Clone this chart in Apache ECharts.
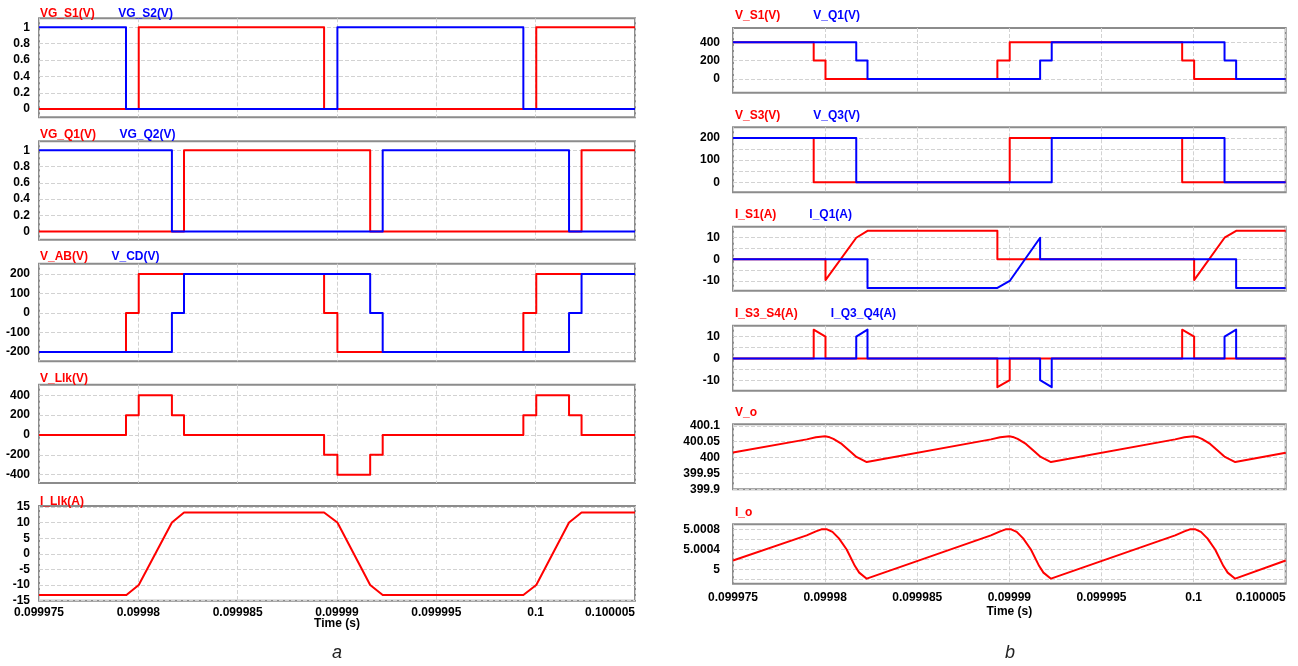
<!DOCTYPE html>
<html><head><meta charset="utf-8">
<script src="https://cdn.jsdelivr.net/npm/echarts@6/dist/echarts.min.js"></script>
<style>html,body{margin:0;padding:0;background:#fff}#c{width:1298px;height:666px}</style>
</head><body><div id="c"></div><script>
// ---------- Time axis ----------
const xTicks = [0.099975, 0.09998, 0.099985, 0.09999, 0.099995, 0.1, 0.100005];
const xTickLabels = ['0.099975', '0.09998', '0.099985', '0.09999', '0.099995', '0.1', '0.100005'];

// ---------- y tick values ----------
const yTicksGate = [0, 0.2, 0.4, 0.6, 0.8, 1];
const yTicksVab = [-200, -100, 0, 100, 200];
const yTicksVllk = [-400, -200, 0, 200, 400];
const yTicksIllk = [-15, -10, -5, 0, 5, 10, 15];
const yTicksVs1 = [0, 200, 400];
const yTicksVs3 = [0, 100, 200];
const yGridVs3 = [0, 50, 100, 150, 200];
const yTicksI = [-10, 0, 10];
const yGridI = [-10, -5, 0, 5, 10];
const yTicksVo = [399.9, 399.95, 400, 400.05, 400.1];
const yTicksIo = [5, 5.0004, 5.0008];
const yGridIo = [4.9998, 5, 5.0002, 5.0004, 5.0006, 5.0008];

// ---------- (a) column series: [time s, value] ----------
const vgS1 = [[0.099975,0],[0.09998002,0],[0.09998002,1],[0.09998935,1],[0.09998935,0],[0.10000003,0],[0.10000003,1],[0.100005,1]];
const vgS2 = [[0.099975,1],[0.09997938,1],[0.09997938,0],[0.09999002,0],[0.09999002,1],[0.09999938,1],[0.09999938,0],[0.100005,0]];
const vgQ1 = [[0.099975,0],[0.0999823,0],[0.0999823,1],[0.09999167,1],[0.09999167,0],[0.10000231,0],[0.10000231,1],[0.100005,1]];
const vgQ2 = [[0.099975,1],[0.09998169,1],[0.09998169,0],[0.0999923,0],[0.0999923,1],[0.10000168,1],[0.10000168,0],[0.100005,0]];
const vAB = [[0.099975,-200],[0.09997938,-200],[0.09997938,0],[0.09998002,0],[0.09998002,200],[0.09998935,200],[0.09998935,0],[0.09999002,0],[0.09999002,-200],[0.09999938,-200],[0.09999938,0],[0.10000003,0],[0.10000003,200],[0.100005,200]];
const vCD = [[0.099975,-200],[0.09998169,-200],[0.09998169,0],[0.0999823,0],[0.0999823,200],[0.09999167,200],[0.09999167,0],[0.0999923,0],[0.0999923,-200],[0.10000168,-200],[0.10000168,0],[0.10000231,0],[0.10000231,200],[0.100005,200]];
const vLlk = [[0.099975,0],[0.09997938,0],[0.09997938,200],[0.09998002,200],[0.09998002,400],[0.09998169,400],[0.09998169,200],[0.0999823,200],[0.0999823,0],[0.09998935,0],[0.09998935,-200],[0.09999002,-200],[0.09999002,-400],[0.09999167,-400],[0.09999167,-200],[0.0999923,-200],[0.0999923,0],[0.09999938,0],[0.09999938,200],[0.10000003,200],[0.10000003,400],[0.10000168,400],[0.10000168,200],[0.10000231,200],[0.10000231,0],[0.100005,0]];
const iLlk = [[0.099975,-13.2],[0.0999794,-13.2],[0.09998002,-10],[0.09998169,10],[0.0999823,13.2],[0.09998935,13.2],[0.09999002,10],[0.09999167,-10],[0.0999923,-13.2],[0.09999938,-13.2],[0.10000003,-10],[0.10000168,10],[0.10000231,13.2],[0.100005,13.2]];

// ---------- (b) column series ----------
const vS1 = [[0.099975,400],[0.09997938,400],[0.09997938,200],[0.09998002,200],[0.09998002,0],[0.09998935,0],[0.09998935,200],[0.09999002,200],[0.09999002,400],[0.09999938,400],[0.09999938,200],[0.10000003,200],[0.10000003,0],[0.100005,0]];
const vQ1 = [[0.099975,400],[0.09998169,400],[0.09998169,200],[0.0999823,200],[0.0999823,0],[0.09999167,0],[0.09999167,200],[0.0999923,200],[0.0999923,400],[0.10000168,400],[0.10000168,200],[0.10000231,200],[0.10000231,0],[0.100005,0]];
const vS3 = [[0.099975,200],[0.09997938,200],[0.09997938,0],[0.09999002,0],[0.09999002,200],[0.09999938,200],[0.09999938,0],[0.100005,0]];
const vQ3 = [[0.099975,200],[0.09998169,200],[0.09998169,0],[0.0999923,0],[0.0999923,200],[0.10000168,200],[0.10000168,0],[0.100005,0]];
const iS1 = [[0.099975,0],[0.09998002,0],[0.09998002,-9.6],[0.09998169,10],[0.0999823,13.2],[0.09998935,13.2],[0.09998935,0],[0.10000003,0],[0.10000003,-9.6],[0.10000168,10],[0.10000231,13.2],[0.100005,13.2]];
const iQ1 = [[0.099975,0],[0.0999823,0],[0.0999823,-13.2],[0.09998935,-13.2],[0.09999002,-10],[0.09999167,10],[0.09999167,0],[0.10000231,0],[0.10000231,-13.2],[0.100005,-13.2]];
const iS3S4 = [[0.099975,0],[0.09997938,0],[0.09997938,13.2],[0.09998002,10],[0.09998002,0],[0.09998935,0],[0.09998935,-13.2],[0.09999002,-10],[0.09999002,0],[0.09999938,0],[0.09999938,13.2],[0.10000003,10],[0.10000003,0],[0.100005,0]];
const iQ3Q4 = [[0.099975,0],[0.09998169,0],[0.09998169,10],[0.0999823,13.2],[0.0999823,0],[0.09999167,0],[0.09999167,-10],[0.0999923,-13.2],[0.0999923,0],[0.10000168,0],[0.10000168,10],[0.10000231,13.2],[0.10000231,0],[0.100005,0]];
const vO = [[0.099975,400.016],[0.099979,400.0575],[0.0999795,400.064],[0.09997975,400.066],[0.09998,400.067],[0.09998025,400.064],[0.09998045,400.059],[0.0999809,400.043],[0.09998135,400.02],[0.0999817,400.002],[0.09998226,399.986],
  [0.099989,400.0575],[0.0999895,400.064],[0.09998975,400.066],[0.09999,400.067],[0.09999025,400.064],[0.09999045,400.059],[0.0999909,400.043],[0.09999135,400.02],[0.0999917,400.002],[0.09999226,399.986],
  [0.099999,400.0575],[0.0999995,400.064],[0.09999975,400.066],[0.1,400.067],[0.10000025,400.064],[0.10000045,400.059],[0.1000009,400.043],[0.10000135,400.02],[0.1000017,400.002],[0.10000226,399.986],[0.100005,400.015]];
const iO = [[0.099975,5.00018],[0.099979,5.00068],[0.0999795,5.00076],[0.0999798,5.0008],[0.0999801,5.0008],[0.0999804,5.00075],[0.09998075,5.00062],[0.09998117,5.0004],[0.09998162,5.00007],[0.09998185,4.99994],[0.09998226,4.99982],
  [0.099989,5.00068],[0.0999895,5.00076],[0.0999898,5.0008],[0.0999901,5.0008],[0.0999904,5.00075],[0.09999075,5.00062],[0.09999117,5.0004],[0.09999162,5.00007],[0.09999185,4.99994],[0.09999226,4.99982],
  [0.099999,5.00068],[0.0999995,5.00076],[0.0999998,5.0008],[0.1000001,5.0008],[0.1000004,5.00075],[0.10000075,5.00062],[0.10000117,5.0004],[0.10000162,5.00007],[0.10000185,4.99994],[0.10000226,4.99982],[0.100005,5.00018]];

// ---------- layout / styling ----------
const RED = '#ff0000', BLUE = '#0000ff';
const FONT = '"Liberation Sans", Arial, Helvetica, sans-serif';
const L = {left: 39, right: 663, lgLeft: 34, gap: 17.5, yMargin: 9};
const R = {left: 733, right: 12.3, lgLeft: 729, gap: 27, yMargin: 13};
const panels = [
  {c:L, top:18.3, h:99, min:-0.1, max:1.11, lab:yTicksGate, gl:yTicksGate, s:[['VG_S1(V)',vgS1,RED],['VG_S2(V)',vgS2,BLUE]], lt:6.5},
  {c:L, top:141.3, h:98.4, min:-0.1, max:1.11, lab:yTicksGate, gl:yTicksGate, s:[['VG_Q1(V)',vgQ1,RED],['VG_Q2(V)',vgQ2,BLUE]], lt:128},
  {c:L, top:263.7, h:97.6, min:-248, max:253, lab:yTicksVab, gl:yTicksVab, s:[['V_AB(V)',vAB,RED],['V_CD(V)',vCD,BLUE]], lt:250},
  {c:L, top:384.7, h:98.3, min:-484, max:507, lab:yTicksVllk, gl:yTicksVllk, s:[['V_Llk(V)',vLlk,RED]], lt:371.5},
  {c:L, top:506, h:94.7, min:-15, max:15.3, lab:yTicksIllk, gl:yTicksIllk, s:[['I_Llk(A)',iLlk,RED]], lt:494.5, bottom:true, xm:6.3, ng:17},
  {c:R, top:28, h:64.7, min:-150, max:556, lab:yTicksVs1, gl:yTicksVs1, s:[['V_S1(V)',vS1,RED],['V_Q1(V)',vQ1,BLUE]], lt:9},
  {c:R, top:127.3, h:65, min:-45, max:248, lab:yTicksVs3, gl:yGridVs3, s:[['V_S3(V)',vS3,RED],['V_Q3(V)',vQ3,BLUE]], lt:109},
  {c:R, top:226.7, h:64, min:-14.5, max:15.1, lab:yTicksI, gl:yGridI, s:[['I_S1(A)',iS1,RED],['I_Q1(A)',iQ1,BLUE]], lt:207.5},
  {c:R, top:325.7, h:65, min:-14.8, max:15, lab:yTicksI, gl:yGridI, s:[['I_S3_S4(A)',iS3S4,RED],['I_Q3_Q4(A)',iQ3Q4,BLUE]], lt:307},
  {c:R, top:424.3, h:65, min:399.9, max:400.105, lab:yTicksVo, gl:yTicksVo, s:[['V_o',vO,RED]], lt:406},
  {c:R, top:524.3, h:59.4, min:4.99972, max:5.0009, lab:yTicksIo, gl:yGridIo, s:[['I_o',iO,RED]], lt:505.5, bottom:true, xm:8, ng:21.5}
];

const splitStyle = {color: '#d2d2d2', type: [4, 2], width: 1};
const lblStyle = {color: '#000', fontWeight: 'bold', fontSize: 12, fontFamily: FONT};
const option = {animation: false, backgroundColor: '#fff', grid: [], xAxis: [], yAxis: [], legend: [], series: [],
  graphic: [
    {type: 'text', x: 337, y: 652.5, style: {text: 'a', font: 'italic 18px ' + FONT, fill: '#222', align: 'center', verticalAlign: 'middle'}},
    {type: 'text', x: 1010, y: 652.5, style: {text: 'b', font: 'italic 18px ' + FONT, fill: '#222', align: 'center', verticalAlign: 'middle'}}
  ]};

panels.forEach((p, i) => {
  option.grid.push({left: p.c.left, right: p.c.right, top: p.top, height: p.h, show: true,
    borderColor: '#8c8c8c', borderWidth: 2, backgroundColor: 'transparent', containLabel: false, outerBoundsMode: 'none'});
  option.xAxis.push({type: 'value', gridIndex: i, min: xTicks[0], max: xTicks[xTicks.length - 1],
    axisLine: {show: false}, axisTick: {show: false, customValues: xTicks},
    splitLine: {show: true, lineStyle: splitStyle},
    axisLabel: Object.assign({show: !!p.bottom, customValues: xTicks, margin: p.xm || 6, alignMaxLabel: 'right',
      formatter: v => { let b = 0; xTicks.forEach((t, k) => { if (Math.abs(t - v) < Math.abs(xTicks[b] - v)) b = k; }); return xTickLabels[b]; }}, lblStyle),
    name: p.bottom ? 'Time (s)' : '', nameLocation: 'middle', nameGap: p.ng || 15, nameMoveOverlap: false,
    nameTextStyle: lblStyle});
  option.yAxis.push({type: 'value', gridIndex: i, min: p.min, max: p.max,
    axisLine: {show: false}, axisTick: {show: false, customValues: p.gl},
    splitLine: {show: true, lineStyle: splitStyle},
    axisLabel: Object.assign({customValues: p.lab, margin: p.c.yMargin}, lblStyle)});
  option.legend.push({left: p.c.lgLeft, top: p.lt, orient: 'horizontal', padding: 0, itemGap: p.c.gap,
    itemWidth: 0, itemHeight: 0, selectedMode: false, itemStyle: {opacity: 0}, lineStyle: {opacity: 0},
    textStyle: {fontFamily: FONT, fontWeight: 'bold', fontSize: 12, lineHeight: 14},
    data: p.s.map(s => ({name: s[0], textStyle: {color: s[2]}}))});
  p.s.forEach((s, j) => {
    option.series.push({type: 'line', name: s[0], xAxisIndex: i, yAxisIndex: i, data: s[1],
      showSymbol: false, symbol: 'none', silent: true, z: 2 + j,
      lineStyle: {color: s[2], width: 2, join: 'round'}, itemStyle: {color: s[2]}});
  });
});

const chart = echarts.init(document.getElementById('c'), null, {renderer: 'canvas'});
chart.setOption(option);
</script></body></html>
